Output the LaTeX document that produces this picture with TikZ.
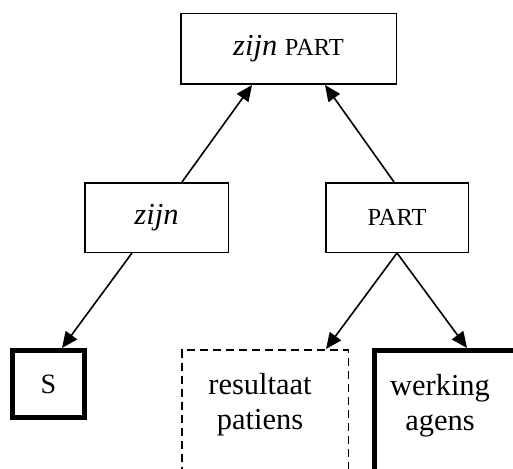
\documentclass[tikz,border=0pt]{standalone}
\usepackage{fontspec}
\setmainfont{Liberation Serif}
\usetikzlibrary{positioning, arrows.meta}
\newcommand{\smcap}[1]{{\fontsize{24.5}{28}\selectfont #1}}
\tikzset{
	thinbox/.style={draw, line width=1.5pt, inner sep=0pt},
	thickbox/.style={draw, line width=5pt, inner sep=0pt},
	dashbox/.style={draw, line width=1.5pt, dash pattern=on 8pt off 5pt, inner sep=0pt},
	every edge/.style={draw, line width=1.6pt, -{Triangle[length=16pt,width=14pt]}}
}

\begin{document}
\begin{tikzpicture}[x=1pt, y=-1pt, font=\fontsize{30.5}{35}\selectfont]
\path[use as bounding box, clip] (0,0) rectangle (513,468);

\node[thinbox, minimum width=215.5pt, minimum height=70.5pt] (top) at (288.5,49) {\textit{zijn} \smcap{PART}};
\node[thinbox, minimum width=143.5pt, minimum height=69.5pt] (zijn) at (156.5,217.5) {\textit{zijn}};
\node[thinbox, minimum width=142.5pt, minimum height=69.5pt] (part) at (397,217.5) {\smcap{PART}};

\node[thickbox, minimum width=72pt, minimum height=67pt] (s) at (48.5,384) {{\fontsize{28}{32}\selectfont S}};
\node[dashbox, minimum width=166.5pt, text height=44.25pt, text depth=130pt, anchor=north] (res) at (265,349) {\begin{tabular}[t]{@{}c@{}}resultaat\\patiens\end{tabular}\hspace*{10pt}};
\node[thickbox, minimum width=190pt, text height=44.5pt, text depth=130pt, anchor=north west] (werk) at (372,348) {\begin{tabular}[t]{@{}c@{}}werking\\agens\end{tabular}\hspace*{59pt}};

\path ([xshift=25.5pt]zijn.north) edge ([xshift=-36.5pt]top.south)
      ([xshift=-3pt]part.north) edge ([xshift=36.5pt]top.south)
      ([xshift=-24.5pt]zijn.south) edge ([xshift=13.5pt]s.north)
      (part.south) edge ([xshift=61pt]res.north)
      (part.south) edge ([xshift=95pt]werk.north west);
\end{tikzpicture}
\end{document}
